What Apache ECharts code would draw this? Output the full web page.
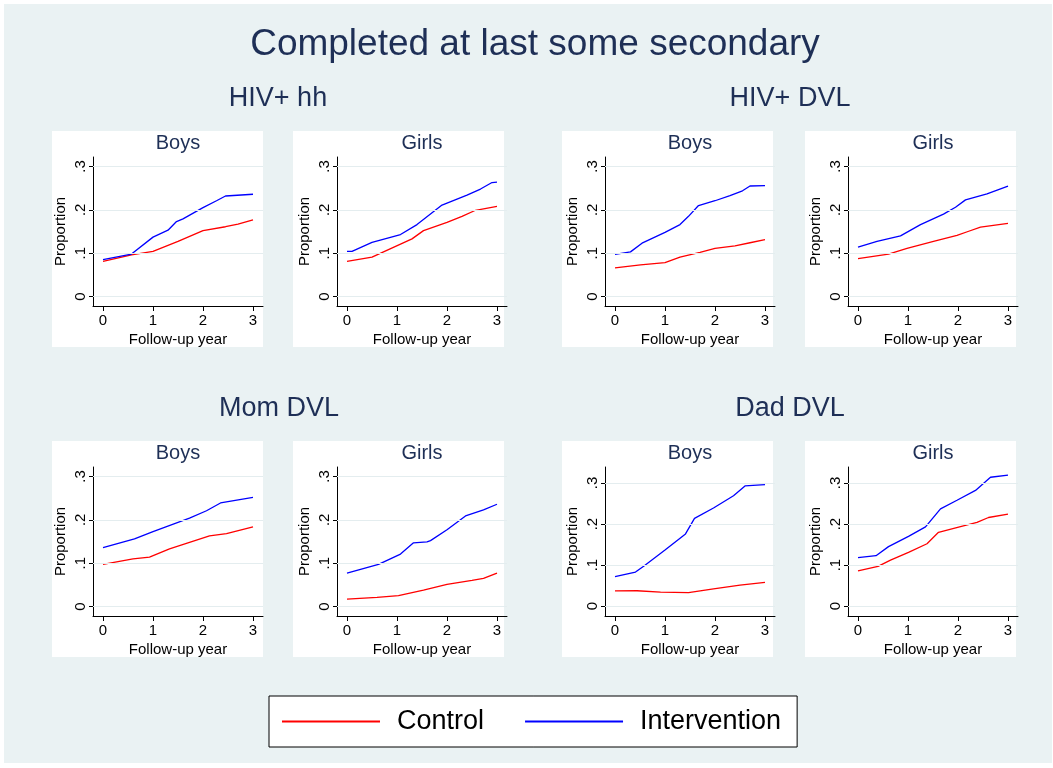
<!DOCTYPE html>
<html>
<head>
<meta charset="utf-8">
<script src="https://cdn.jsdelivr.net/npm/echarts@6/dist/echarts.min.js"></script>
<style>
html,body{margin:0;padding:0;background:#ffffff;}
#chart{width:1053px;height:768px;}
</style>
</head>
<body>
<div id="chart"></div>
<script>
// ---------- Data (x = follow-up year, y = proportion) ----------
const mainTitle = 'Completed at last some secondary';
const groupTitles = ['HIV+ hh', 'HIV+ DVL', 'Mom DVL', 'Dad DVL'];
const sexTitles = ['Boys', 'Girls'];
const seriesNames = ['Control', 'Intervention'];
const xTicks = [0, 1, 2, 3];
const yTicks = [0, 0.1, 0.2, 0.3];
const yTickLabels = ['0', '.1', '.2', '.3'];
const xAxisTitle = 'Follow-up year';
const yAxisTitle = 'Proportion';

const hivHhBoysControl = [[0,0.081],[0.57,0.096],[1,0.104],[1.5,0.127],[2,0.152],[2.45,0.161],[2.7,0.167],[3,0.177]];
const hivHhBoysIntervention = [[0,0.085],[0.57,0.098],[1,0.137],[1.3,0.153],[1.47,0.173],[1.6,0.179],[2,0.205],[2.27,0.221],[2.45,0.232],[3,0.236]];
const hivHhGirlsControl = [[0,0.081],[0.5,0.091],[1.07,0.121],[1.3,0.133],[1.53,0.152],[2,0.171],[2.3,0.185],[2.57,0.199],[3,0.208]];
const hivHhGirlsIntervention = [[0,0.104],[0.1,0.104],[0.5,0.125],[1.07,0.143],[1.4,0.166],[1.9,0.211],[2.4,0.234],[2.67,0.248],[2.9,0.263],[3,0.264]];

const hivDvlBoysControl = [[0,0.066],[0.51,0.073],[1,0.078],[1.3,0.091],[1.7,0.102],[2,0.111],[2.4,0.117],[2.7,0.124],[3,0.131]];
const hivDvlBoysIntervention = [[0,0.097],[0.31,0.103],[0.54,0.123],[1,0.148],[1.3,0.166],[1.47,0.185],[1.67,0.21],[2,0.221],[2.3,0.233],[2.55,0.244],[2.7,0.255],[3,0.256]];
const hivDvlGirlsControl = [[0,0.0875],[0.61,0.098],[0.98,0.111],[1.51,0.127],[1.98,0.141],[2.2,0.15],[2.45,0.16],[3,0.169]];
const hivDvlGirlsIntervention = [[0,0.114],[0.38,0.127],[0.85,0.140],[1.25,0.166],[1.71,0.19],[1.95,0.206],[2.15,0.223],[2.58,0.237],[3,0.255]];

const momBoysControl = [[0,0.097],[0.6,0.110],[0.93,0.114],[1.33,0.133],[1.73,0.148],[2.13,0.163],[2.47,0.168],[3,0.184]];
const momBoysIntervention = [[0,0.136],[0.63,0.156],[1,0.173],[1.73,0.204],[2.07,0.221],[2.35,0.239],[3,0.252]];
const momGirlsControl = [[0,0.017],[0.6,0.021],[1.03,0.025],[1.53,0.038],[2,0.051],[2.5,0.060],[2.73,0.065],[3,0.077]];
const momGirlsIntervention = [[0,0.077],[0.63,0.097],[1.07,0.121],[1.33,0.147],[1.6,0.149],[1.67,0.152],[2,0.177],[2.37,0.209],[2.73,0.223],[3,0.236]];

const dadBoysControl = [[0,0.037],[0.44,0.0375],[0.91,0.034],[1.47,0.033],[1.97,0.042],[2.5,0.051],[3,0.058]];
const dadBoysIntervention = [[0,0.072],[0.41,0.083],[0.58,0.098],[1,0.137],[1.41,0.176],[1.59,0.214],[1.97,0.239],[2.37,0.269],[2.6,0.293],[3,0.296]];
const dadGirlsControl = [[0,0.086],[0.4,0.097],[0.65,0.112],[1.01,0.131],[1.38,0.152],[1.61,0.18],[2.05,0.194],[2.38,0.204],[2.61,0.216],[3,0.224]];
const dadGirlsIntervention = [[0,0.118],[0.36,0.123],[0.61,0.145],[1.01,0.170],[1.35,0.193],[1.65,0.237],[1.98,0.258],[2.35,0.282],[2.65,0.314],[3,0.319]];

// panel order: row by row, left to right
const panelControl = [hivHhBoysControl, hivHhGirlsControl, hivDvlBoysControl, hivDvlGirlsControl,
                      momBoysControl, momGirlsControl, dadBoysControl, dadGirlsControl];
const panelIntervention = [hivHhBoysIntervention, hivHhGirlsIntervention, hivDvlBoysIntervention, hivDvlGirlsIntervention,
                           momBoysIntervention, momGirlsIntervention, dadBoysIntervention, dadGirlsIntervention];

// ---------- Layout / style ----------
const FONT = '"Liberation Sans", Arial, Helvetica, sans-serif';
const NAVY = '#1e2f56';
const BG = '#eaf2f3';
const gridLefts = [93, 337, 605, 848];
const panelLefts = [52, 293, 562, 805];
const rowGridTops = [157, 467];
const rowPanelTops = [131, 441];
const gridW = 170, gridH = 149, panelW = 211, panelH = 216;
const yMaxByPanel = [0.322, 0.322, 0.322, 0.322, 0.322, 0.322, 0.339, 0.339];
const yMinByPanel = [-0.022, -0.022, -0.022, -0.022, -0.022, -0.022, -0.024, -0.024];

const grids = [], xAxes = [], yAxes = [], series = [], graphics = [];

graphics.push({type:'rect', shape:{x:4, y:4, width:1048, height:759}, style:{fill:BG}, z:-10, silent:true});
graphics.push({type:'text', x:535, y:45, style:{text:mainTitle, font:'37px ' + FONT, fill:NAVY, textAlign:'center', textVerticalAlign:'middle'}});
const groupCenters = [[278, 99], [790, 99], [279, 409], [790, 409]];
groupTitles.forEach((t, i) => {
  graphics.push({type:'text', x:groupCenters[i][0], y:groupCenters[i][1], style:{text:t, font:'27px ' + FONT, fill:NAVY, textAlign:'center', textVerticalAlign:'middle'}});
});

for (let p = 0; p < 8; p++) {
  const row = Math.floor(p / 4), col = p % 4;
  const gl = gridLefts[col], gt = rowGridTops[row];
  graphics.push({type:'rect', shape:{x:panelLefts[col], y:rowPanelTops[row], width:panelW, height:panelH}, style:{fill:'#ffffff'}, z:-9, silent:true});
  graphics.push({type:'text', x:gl + gridW / 2, y:rowPanelTops[row] + 12, style:{text:sexTitles[col % 2], font:'20px ' + FONT, fill:NAVY, textAlign:'center', textVerticalAlign:'middle'}});

  grids.push({left:gl, top:gt, width:gridW, height:gridH, containLabel:false});
  xAxes.push({
    gridIndex:p, type:'value', min:-0.2, max:3.2,
    axisLine:{show:true, onZero:false, lineStyle:{color:'#000', width:1}},
    axisTick:{show:true, length:5, customValues:xTicks, lineStyle:{color:'#000'}},
    axisLabel:{customValues:xTicks, fontSize:15, fontFamily:FONT, color:'#000', margin:7},
    splitLine:{show:false},
    name:xAxisTitle, nameLocation:'middle', nameGap:26,
    nameTextStyle:{fontSize:15, fontFamily:FONT, color:'#000'}
  });
  yAxes.push({
    gridIndex:p, type:'value', min:yMinByPanel[p], max:yMaxByPanel[p],
    axisLine:{show:true, onZero:false, lineStyle:{color:'#000', width:1}},
    axisTick:{show:true, length:4, customValues:yTicks, lineStyle:{color:'#000'}},
    axisLabel:{customValues:yTicks, rotate:90, fontSize:15, fontFamily:FONT, color:'#000', margin:5,
      formatter: v => { const k = yTicks.findIndex(t => Math.abs(t - v) < 1e-9); return k >= 0 ? yTickLabels[k] : ''; }},
    splitLine:{show:false},
    name:yAxisTitle, nameLocation:'middle', nameGap:25,
    nameTextStyle:{fontSize:15, fontFamily:FONT, color:'#000'}
  });
  // gridlines at the y ticks
  series.push({
    type:'line', name:'grid' + p, xAxisIndex:p, yAxisIndex:p, data:[], z:1, silent:true,
    markLine:{silent:true, symbol:'none', label:{show:false}, animation:false,
      lineStyle:{color:'#e4edef', width:1, type:'solid'},
      data: yTicks.map(v => ({yAxis:v}))}
  });
  series.push({
    type:'line', name:seriesNames[0], xAxisIndex:p, yAxisIndex:p, data:panelControl[p],
    symbol:'none', lineStyle:{color:'#ff0000', width:1.3}, itemStyle:{color:'#ff0000'}, z:3
  });
  series.push({
    type:'line', name:seriesNames[1], xAxisIndex:p, yAxisIndex:p, data:panelIntervention[p],
    symbol:'none', lineStyle:{color:'#0000ff', width:1.3}, itemStyle:{color:'#0000ff'}, z:3
  });
}

const chart = echarts.init(document.getElementById('chart'), null, {renderer:'canvas'});
chart.setOption({
  animation:false,
  backgroundColor:'#ffffff',
  textStyle:{fontFamily:FONT},
  grid:grids, xAxis:xAxes, yAxis:yAxes, series:series,
  graphic:{elements:graphics},
  legend:{
    data:seriesNames.map(n => ({name:n, icon:'rect'})), left:269, top:696, orient:'horizontal',
    backgroundColor:'#ffffff', borderColor:'#000000', borderWidth:1, borderRadius:0,
    padding:[12, 16, 12, 13], itemWidth:98, itemHeight:2, itemGap:41,
    textStyle:{fontSize:27, fontFamily:FONT, color:'#000', padding:[0,0,0,12], lineHeight:26}
  }
});
</script>
</body>
</html>
